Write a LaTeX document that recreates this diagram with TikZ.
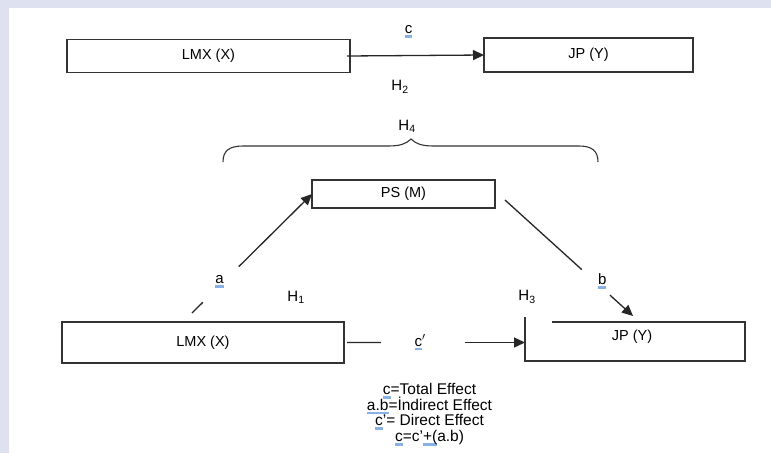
\documentclass[tikz,border=0pt]{standalone}
\usepackage{fontspec}
\setmainfont{Liberation Sans}
\usetikzlibrary{calc,arrows.meta}
\definecolor{pagelav}{HTML}{DDE1F0}
\definecolor{spellblue}{HTML}{8AB0E8}
\definecolor{inkgray}{HTML}{333333}
\newsavebox\spellbox
\newcommand{\spellmark}[1]{\sbox\spellbox{#1}\rlap{\textcolor{spellblue}{\rule[-4pt]{\wd\spellbox}{2.5pt}}}\usebox\spellbox}
\newcommand{\legendfont}{\fontsize{15.5}{15.7}\selectfont\setlength{\lineskiplimit}{-20pt}}

\begin{document}
\begin{tikzpicture}[x=1pt,y=-1pt,
  varbox/.style 2 args={draw=inkgray,line width=1.3pt,inner sep=0pt,outer sep=0pt,
    minimum width=#1,minimum height=#2,font=\fontsize{14.5}{16}\selectfont},
  vartext/.style={inner sep=0pt,font=\fontsize{14.5}{16}\selectfont},
  hlab/.style={inner sep=0pt,font=\fontsize{15}{17}\selectfont},
  smalllab/.style={inner sep=0pt,font=\fontsize{15}{17}\selectfont},
  conn/.style={draw=black!85,line width=1.3pt},
  tip/.style={-{Triangle[length=11pt,width=10pt]}},
  legend/.style={inner sep=0pt,align=center,font=\legendfont}]
\useasboundingbox (0,0) rectangle (771,453);
\fill[pagelav] (0,0) rectangle (771,453);
\fill[white] (9,8) rectangle (771,453);

% total effect
\node[varbox={283pt}{33pt}] (lmxTop) at (208.5,56) {LMX (X)};
\node[varbox={209pt}{34pt}] (jpTop) at (588.5,55) {JP (Y)};
\draw[conn,tip] ([xshift=-3pt]lmxTop.east) -- node[smalllab,pos=0.45,yshift=24pt] (cLab) {\spellmark{c}} (jpTop.west);
\node[hlab] (h2) at (400,87) {H\textsubscript{2}};

% brace and H4
\node[hlab] (h4) at (407,126) {H\textsubscript{4}};
\draw[draw=inkgray,line width=1.1pt] (223,162) .. controls (223,151) and (229,146) .. (243,146) -- (388,146)
  .. controls (400,146) and (406,144) .. (411,139) .. controls (416,144) and (422,146) .. (434,146)
  -- (579,146) .. controls (592,146) and (598,151) .. (598,162);

% mediation model
\node[varbox={183pt}{28pt}] (ps) at (403.5,194) {PS (M)};
\node[varbox={282pt}{41pt}] (lmxBot) at (203,342.5) {LMX (X)};
\node[varbox={220pt}{39pt},draw=none] (jpBot) at (635,341.5) {};
\node[vartext] (jpBotText) at (632,337) {JP (Y)};
\draw[draw=inkgray,line width=1.3pt] ([xshift=27pt]jpBot.north west) -- (jpBot.north east)
  -- (jpBot.south east) -- (jpBot.south west) -- ([yshift=5pt]jpBot.north west);

% path a
\coordinate (aFoot) at ($(lmxBot.north)+(-11,-9)$);
\draw[conn] (aFoot) -- ($(aFoot)!0.09!(ps.west)$);
\draw[conn,tip] ($(aFoot)!0.39!(ps.west)$) -- (ps.west);
\node[smalllab] (aLab) at ($(aFoot)!0.23!(ps.west)+(0,-4)$) {\spellmark{a}};

% path b
\coordinate (bTop) at ($(ps.east)+(10,6)$);
\coordinate (bTip) at ($(jpBot.north)+(-2,-6)$);
\draw[conn] (bTop) -- ($(bTop)!0.60!(bTip)$);
\draw[conn,tip] ($(bTop)!0.82!(bTip)$) -- (bTip);
\node[smalllab] (bLab) at ($(bTop)!0.76!(bTip)+(0,-7)$) {\spellmark{b}};

% path c'
\coordinate (cEnd) at (jpBot.west |- lmxBot.east);
\draw[conn] ($(lmxBot.east)!0.017!(cEnd)$) -- ($(lmxBot.east)!0.204!(cEnd)$);
\draw[conn,tip] ($(lmxBot.east)!0.669!(cEnd)$) -- (cEnd);
\node[smalllab] (cpLab) at ($(lmxBot.east)!0.42!(cEnd)$) {\spellmark{c}$'$};

\node[hlab] (h1) at (296,297) {H\textsubscript{1}};
\node[hlab] (h3) at (527,297) {H\textsubscript{3}};

% legend
\node[legend] (legendText) at (429.5,414.5) {\spellmark{c}=Total Effect\\
  \spellmark{a.b}=İndirect Effect\\
  \spellmark{c}’= Direct Effect\\
  \spellmark{c}=c’\spellmark{+(}a.b)};
\end{tikzpicture}
\end{document}
